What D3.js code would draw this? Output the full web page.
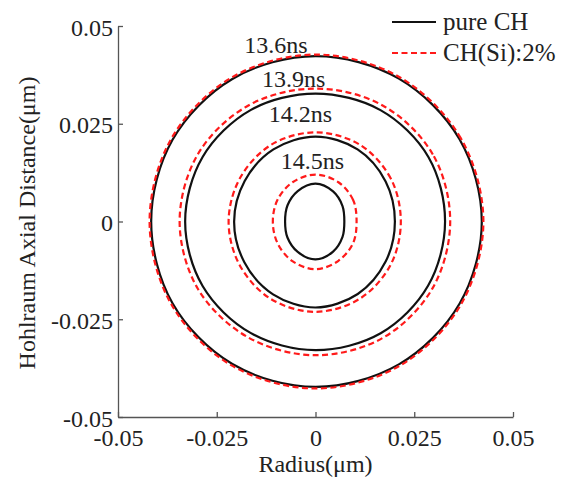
<!DOCTYPE html>
<html>
<head>
<meta charset="utf-8">
<script src="https://cdn.jsdelivr.net/npm/d3@7"></script>
<style>
  body { margin: 0; background: #fff; }
  text { font-family: "Liberation Serif", "Times New Roman", "DejaVu Serif", serif; fill: #222; }
</style>
</head>
<body>
<script>
// tick labels
const tickValues = [-0.05, -0.025, 0, 0.025, 0.05];
const tickLabels = ["-0.05", "-0.025", "0", "0.025", "0.05"];

// contour sampled at these angles (deg, counter-clockwise from +x)
const angles = [0, 30, 60, 90, 120, 150, 180, 210, 240, 270, 300, 330];

// times of the contours
const times = ["13.6ns", "13.9ns", "14.2ns", "14.5ns"];

// radius (um) of each contour at the angles above
const pureCH = [
  [0.0421, 0.0421, 0.0422, 0.0423, 0.0421, 0.0418, 0.0416, 0.0418, 0.0421, 0.0423, 0.0422, 0.0421],
  [0.0328, 0.0330, 0.0329, 0.0327, 0.0329, 0.0330, 0.0330, 0.0330, 0.0329, 0.0329, 0.0330, 0.0329],
  [0.0201, 0.0205, 0.0213, 0.0217, 0.0213, 0.0207, 0.0206, 0.0208, 0.0215, 0.0220, 0.0214, 0.0205],
  [0.0073, 0.0079, 0.0089, 0.0097, 0.0090, 0.0082, 0.0077, 0.0082, 0.0090, 0.0097, 0.0089, 0.0079]
];
const chSi = [
  [0.0425, 0.0425, 0.0426, 0.0427, 0.0425, 0.0422, 0.0420, 0.0422, 0.0425, 0.0427, 0.0426, 0.0425],
  [0.0341, 0.0343, 0.0342, 0.0340, 0.0342, 0.0344, 0.0344, 0.0344, 0.0342, 0.0342, 0.0343, 0.0342],
  [0.0216, 0.0220, 0.0226, 0.0228, 0.0226, 0.0221, 0.0220, 0.0222, 0.0228, 0.0231, 0.0227, 0.0220],
  [0.0104, 0.0110, 0.0116, 0.0120, 0.0116, 0.0111, 0.0108, 0.0111, 0.0117, 0.0122, 0.0116, 0.0110]
];

// label anchor points (um) for the times
const labelX = [-0.0100, -0.0055, -0.0038, -0.0008];
const labelY = [0.0430, 0.0345, 0.0255, 0.0135];

const width = 562;
const height = 479;

const svg = d3.select("body").append("svg").attr("width", width).attr("height", height);

const xScale = d3.scaleLinear().domain([-0.05, 0.05]).range([118, 513]);
const yScale = d3.scaleLinear().domain([-0.05, 0.05]).range([417, 26]);

const fontSize = 24;
const serif = "'Liberation Serif', 'Times New Roman', 'DejaVu Serif', serif";

/* axes, ticks point into the plot */
const axisx = d3.axisBottom(xScale)
  .tickValues(tickValues)
  .tickFormat((d, i) => tickLabels[i])
  .tickSizeInner(-5)
  .tickSizeOuter(0)
  .tickPadding(12);
const axisy = d3.axisLeft(yScale)
  .tickValues(tickValues)
  .tickFormat((d, i) => tickLabels[i])
  .tickSizeInner(-5)
  .tickSizeOuter(0)
  .tickPadding(5);

const gx = svg.append("g")
  .attr("transform", "translate(0," + yScale(-0.05) + ")")
  .call(axisx);
const gy = svg.append("g")
  .attr("transform", "translate(" + xScale(-0.05) + ",0)")
  .call(axisy);

[gx, gy].forEach(g => {
  g.attr("font-family", serif);
  g.selectAll("path, line").attr("stroke", "#555").attr("stroke-width", 1.3);
  g.selectAll("text")
    .style("font-family", serif)
    .style("font-size", fontSize + "px")
    .attr("fill", "#222");
});
gy.selectAll("text").attr("dy", "0.38em");

/* axis titles */
svg.append("text")
  .attr("x", xScale(0))
  .attr("y", 472)
  .attr("text-anchor", "middle")
  .style("font-size", fontSize + "px")
  .text("Radius(\u03bcm)");

svg.append("text")
  .attr("transform", "translate(35," + 223 + ") rotate(-90)")
  .attr("text-anchor", "middle")
  .style("font-size", fontSize + "px")
  .text("Hohlraum Axial Distance(\u03bcm)");

/* contours */
const line = d3.line()
  .x(d => xScale(d[0]))
  .y(d => yScale(d[1]))
  .curve(d3.curveCatmullRomClosed.alpha(0.5));

const toPoints = radii => radii.map((r, i) => {
  const a = angles[i] * Math.PI / 180;
  return [r * Math.cos(a), r * Math.sin(a)];
});

const plot = svg.append("g");

plot.selectAll(".pure")
  .data(pureCH)
  .enter()
  .append("path")
  .attr("class", "pure")
  .attr("d", d => line(toPoints(d)))
  .attr("fill", "none")
  .attr("stroke", "#111")
  .attr("stroke-width", 2.2);

plot.selectAll(".si")
  .data(chSi)
  .enter()
  .append("path")
  .attr("class", "si")
  .attr("d", d => line(toPoints(d)))
  .attr("fill", "none")
  .attr("stroke", "#ff1a1a")
  .attr("stroke-width", 2.2)
  .attr("stroke-dasharray", "6,3.5");

/* time labels */
plot.selectAll(".time")
  .data(times)
  .enter()
  .append("text")
  .attr("class", "time")
  .attr("x", (d, i) => xScale(labelX[i]))
  .attr("y", (d, i) => yScale(labelY[i]))
  .attr("text-anchor", "middle")
  .style("font-size", fontSize + "px")
  .text(d => d);

/* legend */
const legendItems = [
  { name: "pure CH", color: "#111", dash: null },
  { name: "CH(Si):2%", color: "#ff1a1a", dash: "6,3.5" }
];
const legend = svg.append("g").attr("transform", "translate(392,22)");
const item = legend.selectAll(".item")
  .data(legendItems)
  .enter()
  .append("g")
  .attr("transform", (d, i) => "translate(0," + i * 31 + ")");
item.append("line")
  .attr("x1", 0).attr("x2", 44)
  .attr("stroke", d => d.color)
  .attr("stroke-width", 2.2)
  .attr("stroke-dasharray", d => d.dash);
item.append("text")
  .attr("x", 51)
  .attr("y", 8)
  .style("font-size", "25px")
  .text(d => d.name);
</script>
</body>
</html>
